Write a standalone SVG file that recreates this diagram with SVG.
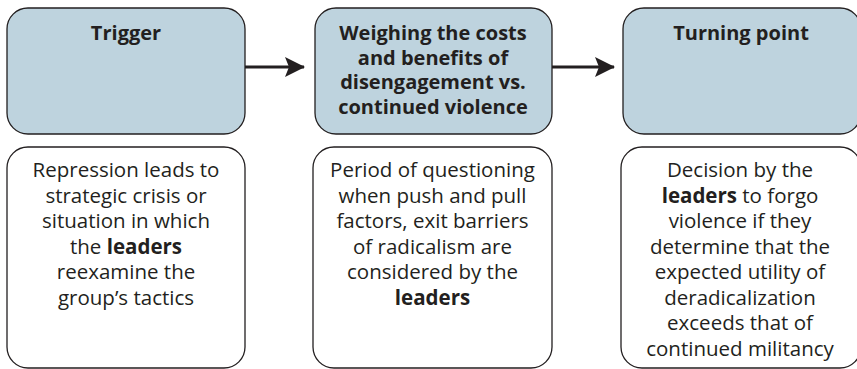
<svg xmlns="http://www.w3.org/2000/svg" width="857" height="369" viewBox="0 0 857 369">
<defs>
<marker id="ah" markerUnits="userSpaceOnUse" markerWidth="20" markerHeight="20" refX="19" refY="10" orient="auto" viewBox="0 0 20 20">
<path d="M0,0 L20,10 L0,20 L4,10 Z" fill="#231f20"/>
</marker>
<style>
.hd{fill:#bed3de;stroke:#231f20;stroke-width:1.3}
.bd{fill:#ffffff;stroke:#231f20;stroke-width:1.3}
text{font-family:"Open Sans","Noto Sans",sans-serif;fill:#231f20;text-anchor:middle}
.t{font-size:20px;font-weight:700}
.b{font-size:20.5px}
.k{font-weight:700}
.c{stroke:#231f20;stroke-width:3;fill:none}
</style>
</defs>
<rect width="857" height="369" fill="#ffffff"/>
<g id="connectors">
<line class="c" x1="245" y1="67" x2="304" y2="67" marker-end="url(#ah)"/>
<line class="c" x1="552" y1="67" x2="614" y2="67" marker-end="url(#ah)"/>
</g>
<g id="trigger">
<rect class="hd" x="7" y="8" width="238" height="126" rx="21"/>
<text class="t" x="126" y="40">Trigger</text>
</g>
<g id="weighing">
<rect class="hd" x="315" y="8" width="237" height="126" rx="21"/>
<text class="t" x="433" y="40">Weighing the costs</text>
<text class="t" x="433" y="64.5">and benefits of</text>
<text class="t" x="433" y="89">disengagement vs.</text>
<text class="t" x="433" y="113.5">continued violence</text>
</g>
<g id="turning">
<rect class="hd" x="623" y="8" width="238" height="126" rx="21"/>
<text class="t" x="741" y="40">Turning point</text>
</g>
<g id="trigger-desc">
<rect class="bd" x="7" y="147" width="238" height="221" rx="21"/>
<text class="b" x="126" y="177">Repression leads to</text>
<text class="b" x="126" y="202.5">strategic crisis or</text>
<text class="b" x="126" y="228">situation in which</text>
<text class="b" x="126" y="253.5">the <tspan class="k">leaders</tspan></text>
<text class="b" x="126" y="279">reexamine the</text>
<text class="b" x="126" y="304.5">group’s tactics</text>
</g>
<g id="weighing-desc">
<rect class="bd" x="313" y="147" width="239" height="221" rx="21"/>
<text class="b" x="432.5" y="177">Period of questioning</text>
<text class="b" x="432.5" y="202.5">when push and pull</text>
<text class="b" x="432.5" y="228">factors, exit barriers</text>
<text class="b" x="432.5" y="253.5">of radicalism are</text>
<text class="b" x="432.5" y="279">considered by the</text>
<text class="b k" x="432.5" y="304.5">leaders</text>
</g>
<g id="turning-desc">
<rect class="bd" x="621" y="147" width="240" height="221" rx="21"/>
<text class="b" x="740" y="177">Decision by the</text>
<text class="b" x="740" y="202.5"><tspan class="k">leaders</tspan> to forgo</text>
<text class="b" x="740" y="228">violence if they</text>
<text class="b" x="740" y="253.5">determine that the</text>
<text class="b" x="740" y="279">expected utility of</text>
<text class="b" x="740" y="304.5">deradicalization</text>
<text class="b" x="740" y="330">exceeds that of</text>
<text class="b" x="740" y="355.5">continued militancy</text>
</g>
</svg>
